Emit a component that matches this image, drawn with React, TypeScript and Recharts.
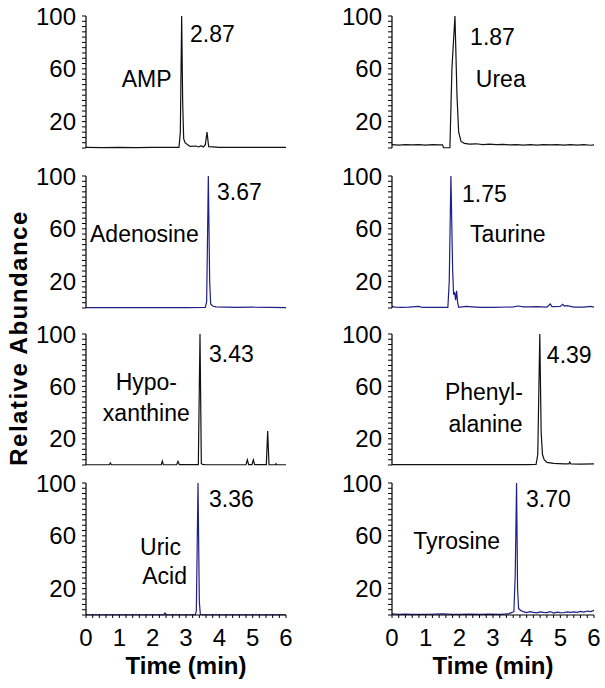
import React from 'react'
import { LineChart, Line, XAxis, YAxis, ReferenceDot } from 'recharts'

// [time (min), relative abundance]
const ampData = [
  [0, 0.5], [0.5, 0.3], [1, 0.5], [1.5, 0.3], [2, 0.5], [2.5, 0.4], [2.79, 0.5], [2.83, 12],
  [2.87, 100], [2.9, 35], [2.93, 7], [2.97, 4], [3.05, 2.5], [3.12, 1.2], [3.3, 1.5], [3.38, 0.8],
  [3.45, 1.8], [3.52, 0.8], [3.58, 2.5], [3.63, 12], [3.68, 1], [3.8, 0.8], [4, 0.5], [4.5, 0.4],
  [5, 0.5], [5.5, 0.5], [6, 0.4],
]
const ureaData = [
  [0, 2.5], [0.2, 2.2], [0.4, 2.6], [0.6, 2.3], [0.8, 2.5], [1, 2.2], [1.2, 2.6], [1.4, 2.3],
  [1.5, 2.4], [1.53, 0.2], [1.72, 0.2], [1.78, 60], [1.82, 78], [1.87, 100], [1.93, 40],
  [1.98, 12], [2.05, 5], [2.15, 3.5], [2.3, 3], [2.5, 3.2], [2.7, 2.6], [2.9, 3], [3.1, 2.5],
  [3.3, 2.8], [3.5, 2.3], [3.7, 2.6], [3.9, 2.2], [4.1, 2.5], [4.3, 2.2], [4.5, 2.6], [4.7, 2.3],
  [4.9, 2.5], [5.1, 2.2], [5.3, 2.6], [5.5, 2.2], [5.7, 2.5], [5.9, 2.1], [6, 2.4],
]
const adenosineData = [
  [0, 0.3], [1, 0.3], [2, 0.3], [3, 0.3], [3.58, 0.5], [3.62, 5], [3.67, 100], [3.71, 20],
  [3.74, 3], [3.8, 1.5], [3.9, 0.8], [4.2, 0.6], [4.5, 0.4], [5, 0.6], [5.5, 0.4], [6, 0.3],
]
const taurineData = [
  [0, 1], [0.1, 0.6], [0.3, 0.5], [0.5, 0.6], [0.8, 1.2], [0.9, 0.4], [1.2, 0.5], [1.5, 0.5],
  [1.66, 0.5], [1.7, 20], [1.75, 100], [1.8, 30], [1.83, 10], [1.86, 12], [1.89, 6], [1.92, 13],
  [1.95, 4], [1.98, 0.5], [2.2, 1.2], [2.4, 0.8], [2.6, 0.5], [3, 0.5], [3.6, 0.8], [3.75, 1.5],
  [3.9, 0.8], [4.1, 0.8], [4.3, 1], [4.6, 0.7], [4.7, 3], [4.75, 1], [5, 1.2], [5.07, 2.8],
  [5.12, 1.5], [5.2, 1.8], [5.4, 0.6], [5.7, 0.7], [5.9, 1.2], [6, 0.6],
]
const hypoxanthineData = [
  [0, 0.2], [0.7, 0.2], [0.73, 1.5], [0.76, 0.2], [1.5, 0.2], [2.26, 0.2], [2.29, 3], [2.32, 0.3],
  [2.72, 0.2], [2.76, 2.8], [2.8, 0.3], [3.37, 0.3], [3.42, 100], [3.46, 1], [3.5, 0.5], [3.6, 0.2],
  [4.8, 0.2], [4.84, 4], [4.88, 0.3], [4.98, 0.3], [5.02, 4], [5.06, 0.3], [5.41, 0.3],
  [5.45, 26], [5.49, 0.3], [5.68, 0.2], [5.7, 1], [5.72, 0.2], [6, 0.2],
]
const phenylalanineData = [
  [0, 0.3], [1, 0.3], [2, 0.3], [3, 0.3], [4, 0.3], [4.28, 0.5], [4.33, 8], [4.39, 100],
  [4.43, 25], [4.47, 8], [4.52, 4], [4.6, 2], [4.8, 1.2], [5.1, 0.8], [5.25, 0.8], [5.28, 2.2],
  [5.31, 0.8], [5.6, 0.6], [6, 0.8],
]
const uricAcidData = [
  [0, 0.2], [1, 0.2], [2, 0.2], [2.33, 0.2], [2.37, 1.5], [2.41, 0.2], [3.28, 0.2], [3.31, 3],
  [3.36, 100], [3.4, 10], [3.43, 0.5], [3.5, 0.2], [4, 0.2], [5, 0.2], [6, 0.2],
]
const tyrosineData = [
  [0, 0.8], [0.2, 0.5], [0.4, 0.7], [0.6, 0.4], [0.8, 0.5], [1, 0.4], [1.3, 0.6], [1.5, 0.8],
  [1.8, 0.4], [2, 0.5], [2.3, 0.6], [2.6, 0.5], [2.9, 0.6], [3.2, 0.5], [3.45, 0.8], [3.55, 1.8],
  [3.62, 2.5], [3.66, 30], [3.7, 100], [3.73, 20], [3.76, 5], [3.82, 3.5], [3.9, 2.5], [4, 1.8],
  [4.1, 2.6], [4.2, 2], [4.3, 1.6], [4.4, 2.4], [4.5, 2], [4.6, 1.8], [4.7, 2.6], [4.8, 1.5],
  [4.9, 2.2], [5, 1.8], [5.1, 1.7], [5.2, 2.3], [5.3, 2], [5.4, 2.4], [5.5, 2], [5.6, 2.8],
  [5.7, 2.2], [5.8, 3], [5.9, 2.6], [6, 3.5],
]

const yTicks = [0, 4, 8, 12, 16, 20, 24, 28, 32, 36, 40, 44, 48, 52, 56, 60, 64, 68, 72, 76, 80, 84, 88, 92, 96, 100]
const yLabels = [20, 60, 100]
const xTicks = [0, 0.2, 0.4, 0.6, 0.8, 1, 1.2, 1.4, 1.6, 1.8, 2, 2.2, 2.4, 2.6, 2.8, 3, 3.2, 3.4, 3.6, 3.8, 4, 4.2, 4.4, 4.6, 4.8, 5, 5.2, 5.4, 5.6, 5.8, 6]
const xLabels = [0, 1, 2, 3, 4, 5, 6]

const BLACK = '#111'
const NAVY = '#1f1f88'
const FONT = '"Liberation Sans", Arial, sans-serif'

const rowTop = [16, 176, 334, 483]
const rowBottom = [148, 308, 465, 615]
const PAD = 16

// text notes: [text, time, abundance, anchor]
const panels = [
  { data: ampData, col: 0, row: 0, color: BLACK, notes: [['2.87', 3.12, 80.3, 'start'], ['AMP', 1.07, 46.2, 'start']] },
  { data: ureaData, col: 1, row: 0, color: BLACK, notes: [['1.87', 2.32, 78, 'start'], ['Urea', 2.49, 46, 'start']] },
  { data: adenosineData, col: 0, row: 1, color: NAVY, notes: [['3.67', 3.93, 81.8, 'start'], ['Adenosine', 0.12, 50.2, 'start']] },
  { data: taurineData, col: 1, row: 1, color: NAVY, notes: [['1.75', 2.08, 80.5, 'start'], ['Taurine', 2.32, 50.2, 'start']] },
  { data: hypoxanthineData, col: 0, row: 2, color: BLACK, notes: [['3.43', 3.69, 78.9, 'start'], ['Hypo-', 1.81, 57.4, 'middle'], ['xanthine', 1.81, 33.6, 'middle']] },
  { data: phenylalanineData, col: 1, row: 2, color: BLACK, notes: [['4.39', 4.6, 78.1, 'start'], ['Phenyl-', 2.73, 49.8, 'middle'], ['alanine', 2.78, 25.4, 'middle']] },
  { data: uricAcidData, col: 0, row: 3, color: NAVY, notes: [['3.36', 3.69, 82, 'start'], ['Uric', 2.235, 45.5, 'middle'], ['Acid', 2.36, 23.5, 'middle']] },
  { data: tyrosineData, col: 1, row: 3, color: NAVY, notes: [['3.70', 3.98, 82, 'start'], ['Tyrosine', 0.63, 50, 'start']] },
]

function Panel({ p }: { p: any }) {
  const bottom = p.row === 3
  const top = rowTop[p.row] - PAD
  const height = rowBottom[p.row] - rowTop[p.row] + PAD + (bottom ? 68 : 4)
  const width = p.col ? 305 : 300
  const chartData = p.data.map(([t, v]: number[]) => ({ t, v }))
  const tickStyle = { fontSize: 24, fill: '#000', fontFamily: FONT }

  return (
    <div style={{ position: 'absolute', left: p.col ? 300 : 0, top }}>
      <LineChart width={width} height={height} data={chartData}
        margin={{ top: PAD, right: p.col ? 11 : 14, bottom: bottom ? 0 : 4, left: 0 }}>
        <XAxis
          dataKey="t"
          type="number"
          domain={[0, 6]}
          ticks={xTicks}
          interval={0}
          hide={!bottom}
          height={68}
          tickSize={3}
          tickMargin={11}
          tick={tickStyle}
          axisLine={{ stroke: '#000', strokeWidth: 1.2 }}
          tickLine={{ stroke: '#000', strokeWidth: 1 }}
          tickFormatter={(v: number) => (xLabels.includes(v) ? String(v) : '')}
          label={{ value: 'Time (min)', position: 'insideBottom', offset: 9, fontSize: 24, fontWeight: 'bold', fill: '#000', fontFamily: FONT }}
        />
        <YAxis
          type="number"
          domain={[0, 100]}
          ticks={yTicks}
          interval={0}
          width={p.col ? 92 : 86}
          tickSize={4}
          tickMargin={6}
          tick={tickStyle}
          axisLine={{ stroke: '#000', strokeWidth: 1.2 }}
          tickLine={{ stroke: '#000', strokeWidth: 1 }}
          tickFormatter={(v: number) => (yLabels.includes(v) ? String(v) : '')}
        />
        <Line type="linear" dataKey="v" stroke={p.color} strokeWidth={1.2} dot={false} isAnimationActive={false} />
        {p.notes.map(([text, t, v, anchor]: any) => (
          <ReferenceDot
            key={text}
            x={t}
            y={v}
            r={0}
            shape={(s: any) => (
              <text x={s.cx} y={s.cy} textAnchor={anchor} fontSize={23} fontFamily={FONT} fill="#000">
                {text}
              </text>
            )}
          />
        ))}
      </LineChart>
    </div>
  )
}

export default function App() {
  return (
    <div style={{ position: 'absolute', left: 0, top: 0, width: 605, height: 688, background: '#fff', fontFamily: FONT }}>
      {panels.map((p, i) => (
        <Panel key={i} p={p} />
      ))}
      <svg width={40} height={688} style={{ position: 'absolute', left: 0, top: 0 }}>
        <text
          x={0}
          y={0}
          transform="translate(27 338) rotate(-90)"
          textAnchor="middle"
          fontSize={24}
          fontWeight="bold"
          letterSpacing={1.5}
          fontFamily={FONT}
          fill="#000"
        >
          Relative Abundance
        </text>
      </svg>
    </div>
  )
}
